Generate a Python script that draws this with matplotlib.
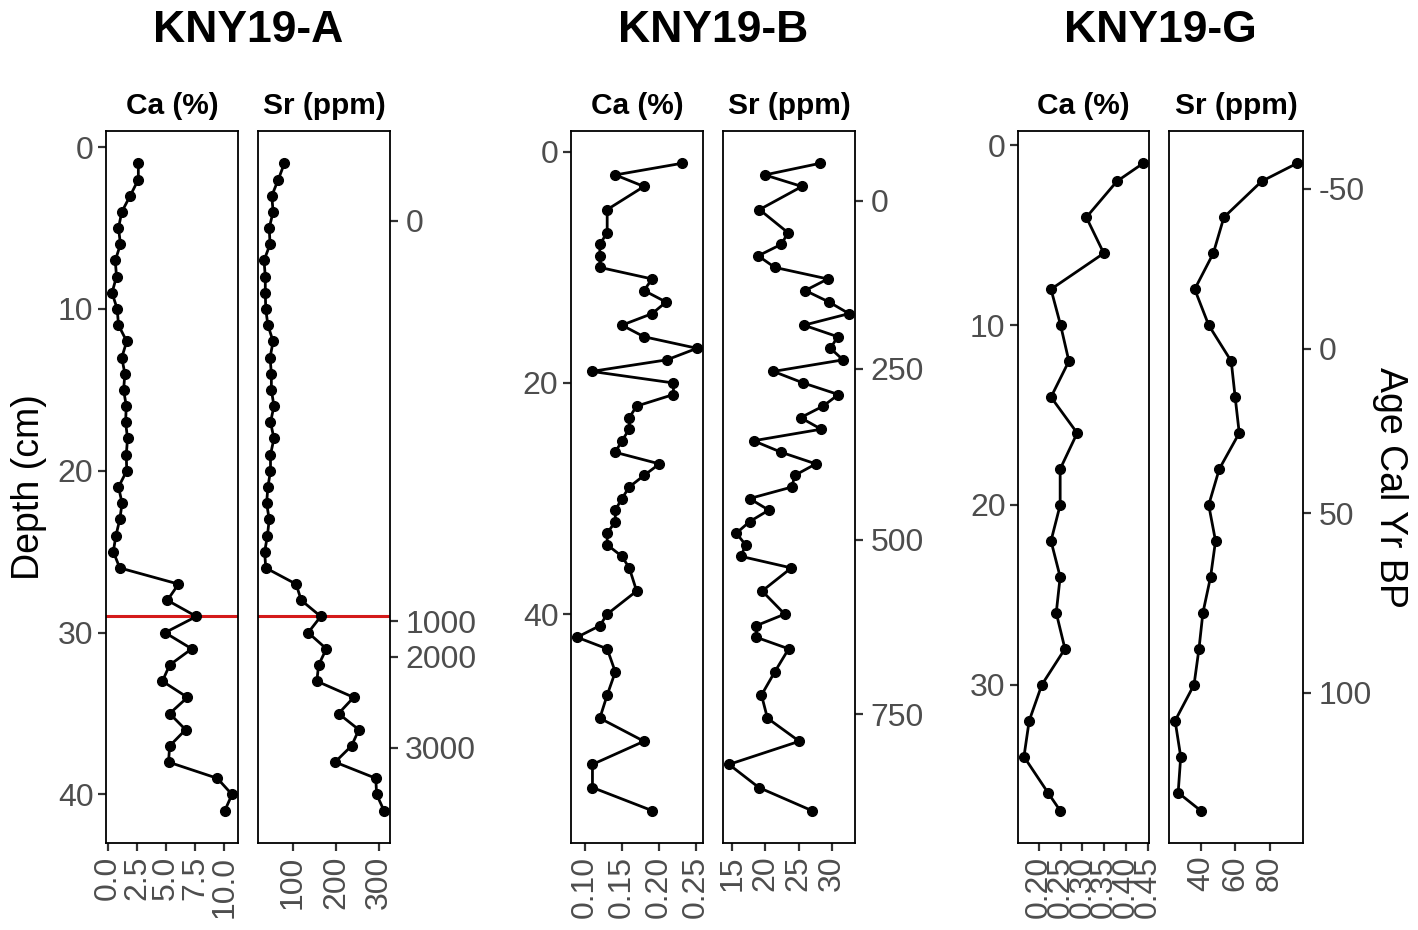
import matplotlib
matplotlib.use("Agg")
import matplotlib.pyplot as plt

plt.rcParams['font.family'] = ['Liberation Sans', 'DejaVu Sans']

# core KNY19-A (1 cm sampling)
a_depth = list(range(1, 42))
a_ca = [2.6, 2.6, 1.9, 1.17, 0.89, 1.06, 0.61, 0.72, 0.33, 0.78, 0.89, 1.6, 1.17, 1.44,
        1.33, 1.56, 1.5, 1.67, 1.56, 1.6, 0.89, 1.2, 1.0, 0.67, 0.44, 1.0, 6.06, 5.1,
        7.6, 4.9, 7.2, 5.3, 4.67, 6.83, 5.3, 6.67, 5.3, 5.2, 9.4, 10.67, 10.05]
a_sr = [81, 67, 52, 55, 46, 48, 34, 37, 37, 38, 43, 55, 48, 51, 51, 57, 49, 57, 49, 49,
        43, 40, 46, 42, 35.5, 38, 108, 120, 165, 136, 178, 160, 156, 241, 206, 253, 236,
        198, 292, 294, 311]

# core KNY19-B
b_depth = [1, 2, 3, 5] + list(range(7, 37)) + [38, 40, 41, 42, 43, 45, 47, 49, 51, 53, 55, 57]
b_ca = [0.231, 0.141, 0.180, 0.130, 0.130, 0.120, 0.120, 0.120, 0.191, 0.180, 0.210, 0.191,
        0.150, 0.180, 0.252, 0.211, 0.109, 0.220, 0.220, 0.170, 0.160, 0.160, 0.150, 0.141,
        0.201, 0.180, 0.160, 0.150, 0.141, 0.141, 0.130, 0.130, 0.150, 0.160, 0.170, 0.130,
        0.120, 0.089, 0.130, 0.141, 0.130, 0.120, 0.180, 0.110, 0.110, 0.191]
b_sr = [28.2, 19.9, 25.5, 19.1, 23.4, 22.4, 18.9, 21.4, 29.4, 26.0, 29.6, 32.6, 25.8, 30.9,
        29.8, 31.7, 21.2, 25.7, 31.0, 28.7, 25.3, 28.4, 18.2, 22.4, 27.6, 24.4, 24.0, 17.6,
        20.5, 17.6, 15.6, 17.0, 16.3, 23.9, 19.5, 22.9, 18.6, 18.6, 23.5, 21.4, 19.4, 20.3,
        25.1, 14.5, 19.0, 27.0]

# core KNY19-G (2 cm sampling)
g_depth = [1, 2] + list(range(4, 37, 2)) + [37]
g_ca = [0.439, 0.379, 0.309, 0.349, 0.228, 0.250, 0.269, 0.228, 0.288, 0.249, 0.249,
        0.228, 0.249, 0.240, 0.260, 0.207, 0.178, 0.166, 0.221, 0.249]
g_sr = [96.0, 75.3, 53.2, 47.0, 36.1, 44.3, 57.5, 59.8, 62.2, 50.5, 44.3, 48.3, 45.4,
        40.9, 38.6, 35.7, 24.6, 27.9, 26.4, 39.6]

# axis ticks
a_ca_ticks = [0, 2.5, 5, 7.5, 10]
a_ca_labels = ["0.0", "2.5", "5.0", "7.5", "10.0"]
a_sr_ticks = [100, 200, 300]
b_ca_ticks = [0.10, 0.15, 0.20, 0.25]
b_ca_labels = ["0.10", "0.15", "0.20", "0.25"]
b_sr_ticks = [15, 20, 25, 30]
g_ca_ticks = [0.20, 0.25, 0.30, 0.35, 0.40, 0.45]
g_ca_labels = ["0.20", "0.25", "0.30", "0.35", "0.40", "0.45"]
g_sr_ticks = [40, 60, 80]

a_depth_ticks = [0, 10, 20, 30, 40]
b_depth_ticks = [0, 20, 40]
g_depth_ticks = [0, 10, 20, 30]

# age model (age label -> depth where it falls)
a_age_labels = [0, 1000, 2000, 3000]
a_age_depths = [4.55, 29.3, 31.5, 37.1]
b_age_labels = [0, 250, 500, 750]
b_age_depths = [4.25, 18.76, 33.56, 48.65]
g_age_labels = [-50, 0, 50, 100]
g_age_depths = [2.4, 11.3, 20.46, 30.43]

a_boundary = 29

W, H = 1418, 930
fig = plt.figure(figsize=(W / 100, H / 100), dpi=100)

TXT = '#4D4D4D'
TCK = '#333333'


def px_axes(x0, x1, y0, y1):
    return fig.add_axes([x0 / W, 1 - y1 / H, (x1 - x0) / W, (y1 - y0) / H])


def style(ax):
    for s in ax.spines.values():
        s.set_linewidth(1.3)
        s.set_color('black')
    ax.tick_params(direction='out', length=6, width=1.6, color=TCK,
                   labelsize=23, labelcolor=TXT, pad=3)


def ylims(depth):
    lo, hi = min(depth), max(depth)
    r = hi - lo
    return hi + 0.05 * r, lo - 0.05 * r


def panel(ax, x, depth, xt, xl, title):
    ax.plot(x, depth, color='black', lw=2.0, marker='o', ms=7, zorder=3)
    ax.set_xticks(xt)
    if xl is not None:
        ax.set_xticklabels(xl)
    ax.tick_params(axis='x', labelrotation=90)
    ax.set_ylim(*ylims(depth))
    style(ax)
    ax.set_title(title, fontsize=21.5, fontweight='bold', pad=12)


cores = [
    (106, 238, 258, 390, a_depth, a_ca, a_sr, a_ca_ticks, a_ca_labels, a_sr_ticks,
     a_depth_ticks, a_age_depths, a_age_labels, "KNY19-A"),
    (571, 703, 723, 855, b_depth, b_ca, b_sr, b_ca_ticks, b_ca_labels, b_sr_ticks,
     b_depth_ticks, b_age_depths, b_age_labels, "KNY19-B"),
    (1018, 1149, 1169, 1303, g_depth, g_ca, g_sr, g_ca_ticks, g_ca_labels, g_sr_ticks,
     g_depth_ticks, g_age_depths, g_age_labels, "KNY19-G"),
]

top, bot = 131, 843
for (c0, c1, s0, s1, dep, ca, sr, cat, cal, srt, dt, agd, agl, name) in cores:
    ax1 = px_axes(c0, c1, top, bot)
    ax2 = px_axes(s0, s1, top, bot)
    panel(ax1, ca, dep, cat, cal, "Ca (%)")
    panel(ax2, sr, dep, srt, None, "Sr (ppm)")
    ax1.set_yticks(dt)
    ax2.yaxis.set_ticks_position('right')
    ax2.set_yticks(agd)
    ax2.set_yticklabels([str(v) for v in agl])
    ax2.tick_params(axis='y', pad=5)
    if name == "KNY19-A":
        ax1.axhline(a_boundary, color='#D41A1A', lw=2.2, zorder=2)
        ax2.axhline(a_boundary, color='#D41A1A', lw=2.2, zorder=2)
        ax1.set_ylabel("Depth (cm)", fontsize=27, labelpad=8)
    if name == "KNY19-G":
        ax2.yaxis.set_label_position('right')
        ax2.set_ylabel("Age Cal Yr BP", fontsize=27, rotation=270, labelpad=26)
    fig.text((c0 + s1) / 2 / W, 1 - 30 / H, name, fontsize=32, fontweight='bold',
             ha='center', va='center')

fig.savefig("out.png", dpi=100)
